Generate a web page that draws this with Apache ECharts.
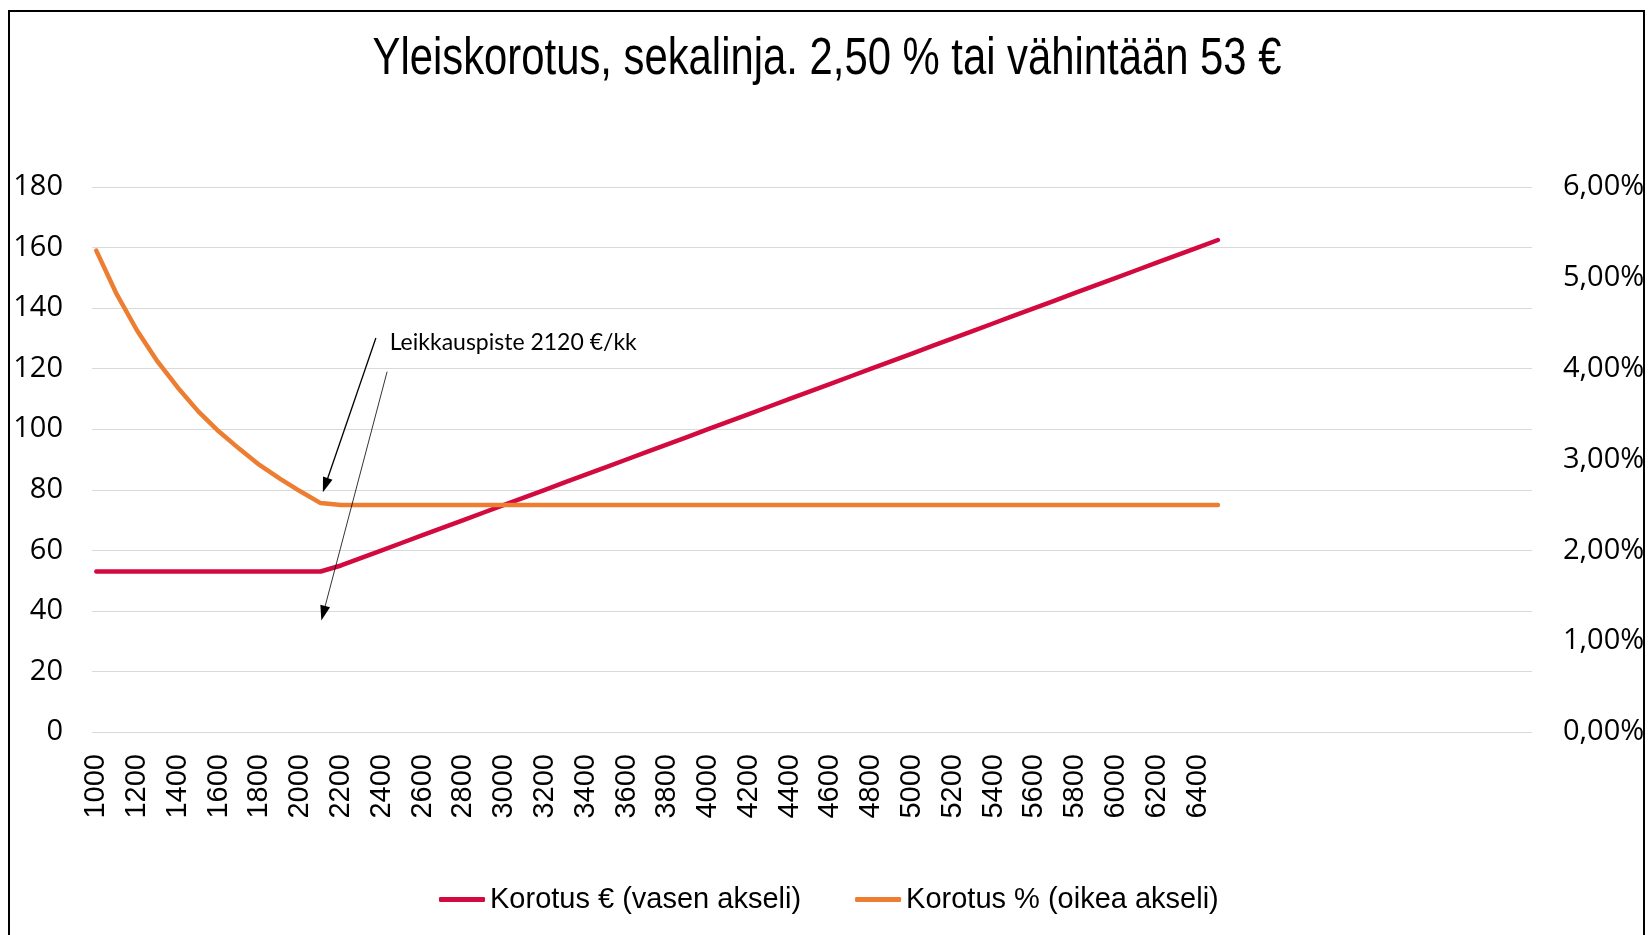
<!DOCTYPE html>
<html>
<head>
<meta charset="utf-8">
<script src="https://cdn.jsdelivr.net/npm/echarts@6/dist/echarts.min.js"></script>
<style>html,body{margin:0;padding:0;background:#fff}#c{width:1648px;height:935px}</style>
</head>
<body>
<div id="c"></div>
<script>
var titleText = 'Yleiskorotus, sekalinja. 2,50 % tai vähintään 53 €';
var seriesNames = ['Korotus € (vasen akseli)', 'Korotus % (oikea akseli)'];
var incomes = [1000,1100,1200,1300,1400,1500,1600,1700,1800,1900,2000,2100,2200,2300,2400,2500,2600,2700,2800,2900,3000,3100,3200,3300,3400,3500,3600,3700,3800,3900,4000,4100,4200,4300,4400,4500,4600,4700,4800,4900,5000,5100,5200,5300,5400,5500,5600,5700,5800,5900,6000,6100,6200,6300,6400,6500];
var raiseEuro = [53,53,53,53,53,53,53,53,53,53,53,53,55,57.5,60,62.5,65,67.5,70,72.5,75,77.5,80,82.5,85,87.5,90,92.5,95,97.5,100,102.5,105,107.5,110,112.5,115,117.5,120,122.5,125,127.5,130,132.5,135,137.5,140,142.5,145,147.5,150,152.5,155,157.5,160,162.5];
var raisePct = [5.30,4.82,4.42,4.08,3.79,3.53,3.31,3.12,2.94,2.79,2.65,2.52,2.50,2.50,2.50,2.50,2.50,2.50,2.50,2.50,2.50,2.50,2.50,2.50,2.50,2.50,2.50,2.50,2.50,2.50,2.50,2.50,2.50,2.50,2.50,2.50,2.50,2.50,2.50,2.50,2.50,2.50,2.50,2.50,2.50,2.50,2.50,2.50,2.50,2.50,2.50,2.50,2.50,2.50,2.50,2.50];
var xTickLabels = [1000,1200,1400,1600,1800,2000,2200,2400,2600,2800,3000,3200,3400,3600,3800,4000,4200,4400,4600,4800,5000,5200,5400,5600,5800,6000,6200,6400];
var annotationText = 'Leikkauspiste 2120 €/kk';
var annotationPoint = [2436, 128.5];
var arrowLines = [
  [[2371, 130.1], [2123, 81.5]],
  [[2426, 119.0], [2113, 39.2]]
];

var chart = echarts.init(document.getElementById('c'), null, {renderer: 'canvas'});
var axisFont = '"Open Sans", sans-serif';
var sansFont = '"Liberation Sans", Arial, sans-serif';

var option = {
  animation: false,
  backgroundColor: '#fff',
  legend: {
    data: seriesNames,
    left: 434,
    top: 880,
    itemWidth: 46,
    itemHeight: 5,
    itemGap: 54,
    icon: 'roundRect',
    textStyle: {fontFamily: sansFont, fontSize: 29, color: '#000', padding: [0,0,0,0]}
  },
  grid: {left: 92, right: 116, top: 187, bottom: 203, containLabel: false},
  xAxis: {
    type: 'value',
    min: 979,
    max: 8040,
    axisLine: {show: false},
    axisTick: {show: false},
    splitLine: {show: false},
    axisLabel: {
      customValues: xTickLabels,
      rotate: 90,
      margin: 22,
      fontFamily: sansFont,
      fontSize: 29,
      color: '#000',
      formatter: function (v) { return String(v); }
    }
  },
  yAxis: [
    {
      type: 'value', min: 0, max: 180, interval: 20, position: 'left',
      axisLine: {show: false}, axisTick: {show: false},
      splitLine: {lineStyle: {color: '#D9D9D9', width: 1}},
      axisLabel: {margin: 29, fontFamily: axisFont, fontSize: 29, color: '#000'}
    },
    {
      type: 'value', min: 0, max: 6, interval: 1, position: 'right',
      axisLine: {show: false}, axisTick: {show: false},
      splitLine: {show: false},
      axisLabel: {
        margin: 31, fontFamily: axisFont, fontSize: 29, color: '#000',
        formatter: function (v) { return v.toFixed(2).replace('.', ',') + '%'; }
      }
    }
  ],
  series: [
    {
      name: seriesNames[0],
      type: 'line',
      yAxisIndex: 0,
      data: incomes.map(function (x, i) { return [x, raiseEuro[i]]; }),
      showSymbol: false,
      smooth: false,
      lineStyle: {color: '#D20A3F', width: 4.5, cap: 'round', join: 'round'},
      itemStyle: {color: '#D20A3F'},
      markLine: {
        silent: true,
        symbol: ['none', 'triangle'],
        symbolSize: [10, 15],
        label: {show: false},
        emphasis: {disabled: true},
        data: [
          [{coord: arrowLines[0][0], lineStyle: {color: '#000', width: 1.3, type: 'solid'}}, {coord: arrowLines[0][1]}],
          [{coord: arrowLines[1][0], lineStyle: {color: '#000', width: 0.8, type: 'solid'}}, {coord: arrowLines[1][1]}]
        ]
      },
      markPoint: {
        silent: true,
        symbol: 'circle',
        symbolSize: 1,
        itemStyle: {color: 'rgba(0,0,0,0)'},
        label: {
          show: true, position: 'right', distance: 0,
          formatter: annotationText,
          fontFamily: '"Lato", "Open Sans", sans-serif', fontSize: 23, color: '#000'
        },
        data: [{coord: annotationPoint}]
      }
    },
    {
      name: seriesNames[1],
      type: 'line',
      yAxisIndex: 1,
      data: incomes.map(function (x, i) { return [x, raisePct[i]]; }),
      showSymbol: false,
      smooth: false,
      lineStyle: {color: '#ED7D31', width: 4.5, cap: 'round', join: 'round'},
      itemStyle: {color: '#ED7D31'}
    }
  ],
  graphic: [
    {
      type: 'text', silent: true,
      x: 827, y: 60, scaleX: 0.82, scaleY: 1,
      style: {
        text: titleText, fill: '#000',
        font: 'normal 51px ' + sansFont,
        textAlign: 'center', textVerticalAlign: 'middle'
      }
    },
    {
      type: 'rect', silent: true, z: 100,
      shape: {x: 9, y: 11, width: 1635, height: 940},
      style: {fill: 'none', stroke: '#000', lineWidth: 2}
    }
  ]
};
chart.setOption(option);
</script>
</body>
</html>
